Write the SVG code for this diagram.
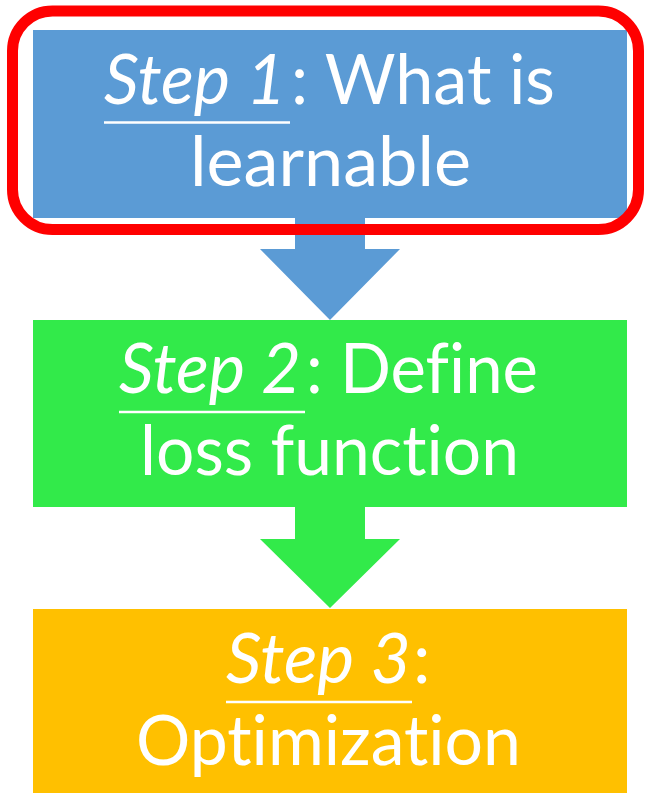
<svg xmlns="http://www.w3.org/2000/svg" width="645" height="793" viewBox="0 0 645 793">
  <style>
    .lbl { font-family: "Lato", "Open Sans", "Liberation Sans", sans-serif; font-size: 70px; fill: #ffffff; font-variant-ligatures: none; }
    .it { font-style: italic; }
    .ul { stroke: #ffffff; stroke-width: 2.5; }
  </style>
  <rect width="645" height="793" fill="#ffffff"/>

  <!-- connectors: block arrows between steps -->
  <g id="connectors">
    <polygon points="295,216 365,216 365,249 400,249 330,320 260,249 295,249" fill="#5B9BD5"/>
    <polygon points="295,506 365,506 365,539 400,539 330,608 260,539 295,539" fill="#32EA4A"/>
  </g>

  <g id="step1">
    <rect x="33" y="30" width="594" height="188" fill="#5B9BD5"/>
    <text class="lbl it" x="104" y="104" textLength="182" lengthAdjust="spacingAndGlyphs">Step 1</text>
    <text class="lbl" x="291" y="104" textLength="264" lengthAdjust="spacingAndGlyphs">: What is</text>
    <line class="ul" x1="104" y1="122.5" x2="290" y2="122.5"/>
    <text class="lbl" x="190" y="186" textLength="281" lengthAdjust="spacingAndGlyphs">learnable</text>
    <rect x="12.5" y="11" width="626" height="218.5" rx="40" ry="40" fill="none" stroke="#FF0000" stroke-width="11"/>
  </g>

  <g id="step2">
    <rect x="33" y="320" width="594" height="187" fill="#32EA4A"/>
    <text class="lbl it" x="119" y="393" textLength="182" lengthAdjust="spacingAndGlyphs">Step 2</text>
    <text class="lbl" x="306" y="393" textLength="232" lengthAdjust="spacingAndGlyphs">: Define</text>
    <line class="ul" x1="119" y1="412" x2="305" y2="412"/>
    <text class="lbl" x="140" y="475" textLength="379" lengthAdjust="spacingAndGlyphs">loss function</text>
  </g>

  <g id="step3">
    <rect x="33" y="609" width="594" height="184" fill="#FFC000"/>
    <text class="lbl it" x="226" y="683" textLength="185" lengthAdjust="spacingAndGlyphs">Step 3</text>
    <text class="lbl" x="413" y="683">:</text>
    <line class="ul" x1="226" y1="702" x2="412" y2="702"/>
    <text class="lbl" x="136" y="765" textLength="385" lengthAdjust="spacingAndGlyphs">Optimization</text>
  </g>
</svg>
